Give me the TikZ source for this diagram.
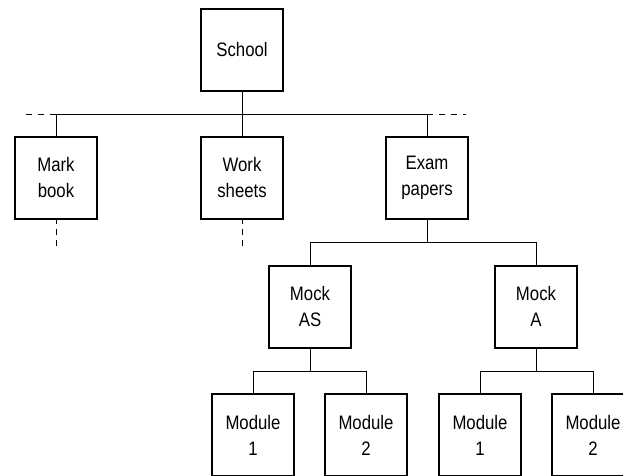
\documentclass[tikz,border=0pt]{standalone}
\usepackage{fontspec}
\setmainfont[FakeStretch=0.86]{Liberation Sans}
\begin{document}
\begin{tikzpicture}[x=1pt,y=-1pt,
  box/.style={draw,line width=2pt,minimum width=82pt,minimum height=82pt,inner sep=0pt,align=center,font=\fontsize{19.5}{26}\selectfont},
  link/.style={line width=0.9pt},
  dashlink/.style={line width=0.9pt,dash pattern=on 6pt off 6pt}]
\useasboundingbox (0,0) rectangle (623,475);
\clip (0,0) rectangle (623,475);
\node[box] (school) at (242,50) {School};
\node[box] (mark) at (56,178) {Mark\\book};
\node[box] (work) at (242,178) {Work\\sheets};
\node[box] (exam) at (427,178) {Exam\\papers};
\node[box] (mockas) at (310,306.5) {Mock\\AS};
\node[box] (mocka) at (536,306.5) {Mock\\A};
\node[box] (m1) at (253,435) {Module\\1};
\node[box] (m2) at (366,435) {Module\\2};
\node[box] (m3) at (480,435) {Module\\1};
\node[box] (m4) at (593,435) {Module\\2};
\coordinate (bus) at (0,114);
\coordinate (bus2) at (0,242.5);
\coordinate (bus3) at (0,371);
\coordinate (dl) at (22,114);
\coordinate (dr) at (466,114);
\draw[link] (school.south) -- (school.south |- bus);
\draw[link] (mark.north) -- (mark.north |- bus) -| (exam.north);
\draw[link] (work.north) -- (work.north |- bus);
\draw[dashlink] (mark.north |- bus) -- (dl);
\draw[dashlink] (exam.north |- bus) -- (dr);
\coordinate (mdown) at (56,246);
\coordinate (wdown) at (242,246);
\draw[link,dash pattern=on 6pt off 5pt] ([yshift=2pt]mark.south) -- (mdown);
\draw[link,dash pattern=on 6pt off 5pt] ([yshift=2pt]work.south) -- (wdown);
\draw[link] (exam.south) -- (exam.south |- bus2);
\draw[link] (mockas.north) -- (mockas.north |- bus2) -| (mocka.north);
\draw[link] (mockas.south) -- (mockas.south |- bus3);
\draw[link] (m1.north) -- (m1.north |- bus3) -| (m2.north);
\draw[link] (mocka.south) -- (mocka.south |- bus3);
\draw[link] (m3.north) -- (m3.north |- bus3) -| (m4.north);
\end{tikzpicture}
\end{document}
